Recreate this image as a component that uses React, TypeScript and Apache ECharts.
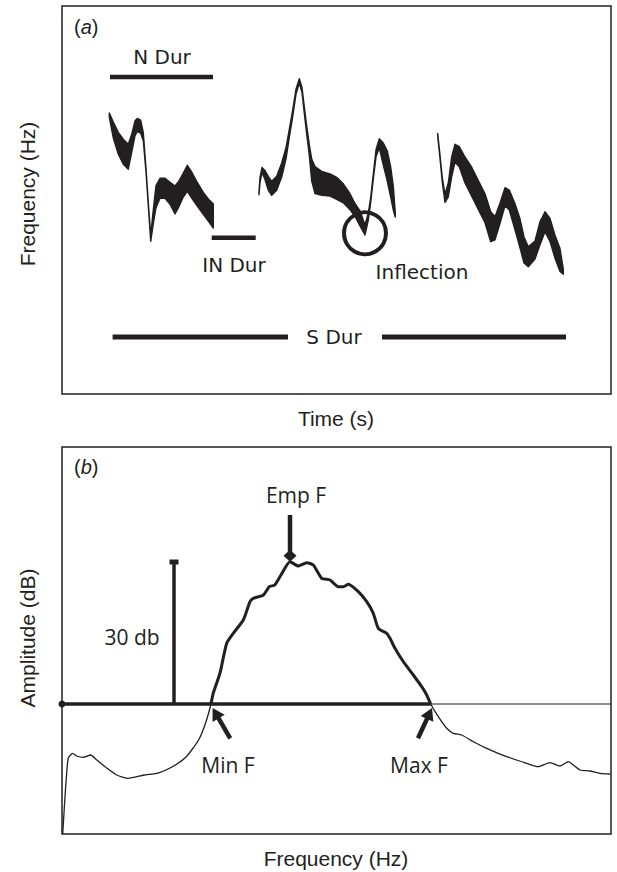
import React, { useEffect, useRef } from 'react';
import * as echarts from 'echarts';

const INK = '#231f20';

// ---------- Panel (a): spectrogram traces: [time, centre frequency, band height] ----------
const syllable1 = [
  [47.3, 279, 4], [51.3, 264, 16], [56.3, 250.7, 22], [61.3, 242.3, 25], [66.3, 237.3, 25],
  [69.7, 250.7, 18], [73, 265.7, 15], [75.3, 269, 13], [78.7, 267.3, 13], [81.3, 257.3, 8],
  [84, 224, 4], [86.7, 184, 3.5], [88.7, 155.7, 6], [91.3, 177.3, 14], [94, 197.3, 22],
  [98, 205.7, 20], [103, 205.7, 20], [108, 200.7, 22], [113, 194, 28], [116.3, 199, 26],
  [121.3, 209, 24], [125.3, 215.7, 26], [129.7, 209, 26], [134.7, 200.7, 24], [141.3, 190.7, 22],
  [146.3, 184, 22], [151.3, 178, 24],
];
const syllable2 = [
  [197, 200.7, 3], [198, 214, 5], [200, 224, 5], [203, 219, 9], [206.3, 210.7, 14],
  [209.7, 205.7, 14], [214.7, 210.7, 14], [219.7, 224, 14], [224, 240.7, 11], [227.3, 260.7, 8],
  [230.7, 280.7, 6.5], [234, 302.3, 5], [237.3, 313.3, 4], [240, 304, 5], [242.3, 284, 6.5],
  [244.7, 264, 8], [247.3, 244, 11], [249.7, 224, 22], [253, 214, 27], [259.7, 210.7, 24],
  [268, 209, 22], [274.7, 205.7, 22], [281.3, 200.7, 19], [288, 192.3, 16], [293, 184, 13],
  [298, 175.7, 15], [303, 164, 10], [306.3, 177.3, 7], [308.7, 194, 5], [311.3, 217.3, 5],
  [314, 240.7, 7], [317.3, 250.7, 9], [321.3, 240, 22], [325.3, 228, 30], [328.7, 212, 30],
  [331.3, 196, 24], [333.3, 179, 4],
];
const syllable3 = [
  [375.7, 259, 3], [378, 237.3, 3.5], [380.3, 214, 4.5], [383, 195.7, 8], [386.3, 204, 14],
  [389.7, 227.3, 20], [393, 240.7, 18], [397.3, 237.3, 20], [403, 224, 26], [409.7, 212.3, 29],
  [416.3, 199, 29], [423, 185.7, 29], [428.7, 167.3, 30], [433, 165.7, 23], [438, 180.7, 20],
  [443, 197.3, 18], [447.3, 194, 20], [453, 177.3, 26], [458, 160.7, 29], [462, 144, 26],
  [466.3, 137.3, 20], [473, 144, 18], [478, 160.7, 23], [483, 172.3, 20], [488, 164, 23],
  [493, 147.3, 23], [498, 134, 23], [501.3, 122.3, 5],
];

// Measurement bars (time span, frequency level)
const nDurSpan = [48, 151];
const nDurLevel = 317;
const inDurSpan = [149.7, 193.7];
const inDurLevel = 156.2;
const sDurLeftSpan = [50.6, 226];
const sDurRightSpan = [320, 504];
const sDurLevel = 57;
const inflectionPoint = [303, 160.7];

// ---------- Panel (b): power spectrum ----------
const spectrumFreq = [
  0.7, 3, 4.7, 6.3, 10.7, 14.7, 21.3, 28.7, 34.7, 44.7, 54.7, 66.3, 82, 96, 110, 124, 136.6, 143.6,
  149, 151.3, 158, 164.7, 171.3, 181.3, 188, 191.3, 201.5, 207.3, 212.7, 219, 228, 236.3, 244.7, 251.3,
  259.7, 268, 276.3, 281.3, 286.3, 296.3, 304.7, 311.3, 316.3, 324.7, 328, 333, 341.3, 351.3, 359.7,
  364.7, 368.7, 376.3, 384.7, 391.3, 399.7, 411.3, 424.7, 444.7, 464.7, 476.3, 488, 498, 506.3, 511.3,
  518, 528, 538, 548,
];
const spectrumAmp = [
  0, 37.3, 61, 76, 80.7, 78, 76.7, 79, 74, 66, 59, 55.7, 59, 61, 67, 77, 94, 111,
  130, 141, 161, 190.7, 200.7, 214, 232.3, 235.7, 239, 247.3, 249, 259, 272.3, 268, 271.3, 269,
  255.7, 254, 247.3, 247.3, 249.7, 242.3, 232.3, 220.7, 205.7, 200.7, 195.7, 185.7, 172.3, 159, 147.3,
  139, 130, 117.3, 105.7, 100.7, 99, 92.3, 85.7, 77.3, 70.7, 67.3, 71.3, 68, 72.3, 69,
  64, 63, 60.7, 60,
];
const thresholdAmp = 130;
const thresholdEndFreq = 368.7;
const dbScaleFreq = 112;
const dbScaleTop = 272;
const empFTail = [228, 319];
const empFTip = [228, 272.3];
const minFTail = [168.2, 95.7];
const minFTip = [150.6, 126];
const maxFTail = [356, 95.7];
const maxFTip = [370, 126];

const syllables = [syllable1, syllable2, syllable3];
const arrows = [
  { tail: empFTail, tip: empFTip, head: 'diamond' },
  { tail: minFTail, tip: minFTip, head: 'tri' },
  { tail: maxFTail, tip: maxFTip, head: 'tri' },
];

function barSeries(name: string, span: number[], level: number, axis: number, width: number) {
  return {
    name,
    type: 'line',
    xAxisIndex: axis,
    yAxisIndex: axis,
    data: [[span[0], level], [span[1], level]],
    symbol: 'none',
    clip: false,
    silent: true,
    lineStyle: { color: INK, width, cap: 'butt' },
  };
}

function txt(text: string, x: number, y: number, family: string, size: number, extra: any = {}) {
  return {
    type: 'text',
    x,
    y,
    silent: true,
    ...extra,
    style: {
      text,
      fill: INK,
      fontFamily: family,
      fontSize: size,
      align: 'center',
      verticalAlign: 'middle',
      textAlign: 'center',
      textVerticalAlign: 'middle',
    },
  };
}

function panelLabel(letter: string, x: number, y: number) {
  return {
    type: 'text',
    x,
    y,
    silent: true,
    style: {
      text: '{n|(}{i|' + letter + '}{n|)}',
      fill: INK,
      fontFamily: '"Liberation Sans", Arial, sans-serif',
      fontSize: 20,
      align: 'left',
      verticalAlign: 'middle',
      rich: {
        n: { fontFamily: '"Liberation Sans", Arial, sans-serif', fontSize: 20, fill: INK, color: INK },
        i: { fontFamily: '"Liberation Sans", Arial, sans-serif', fontSize: 20, fontStyle: 'italic', fill: INK, color: INK },
      },
    },
  };
}

export default function App() {
  const ref = useRef<HTMLDivElement>(null);

  useEffect(() => {
    if (!ref.current) return;
    const chart = echarts.init(ref.current, undefined, { renderer: 'svg' });

    const spectrum = spectrumFreq.map((f, i) => [f, spectrumAmp[i]]);
    const aboveThreshold = spectrum.filter((p) => p[1] >= thresholdAmp);

    const verdana = '"DejaVu Sans", Verdana, sans-serif';
    const myriad = '"Open Sans", "Noto Sans", sans-serif';
    const arial = '"Liberation Sans", Arial, sans-serif';

    const option: any = {
      animation: false,
      grid: [
        { left: 62, top: 6, width: 549, height: 388, show: true, borderColor: INK, borderWidth: 1.5, backgroundColor: 'transparent' },
        { left: 62, top: 447, width: 549, height: 387, show: true, borderColor: INK, borderWidth: 1.5, backgroundColor: 'transparent' },
      ],
      xAxis: [
        { type: 'value', gridIndex: 0, min: 0, max: 549, show: false },
        { type: 'value', gridIndex: 1, min: 0, max: 549, show: false },
      ],
      yAxis: [
        { type: 'value', gridIndex: 0, min: 0, max: 388, show: false },
        { type: 'value', gridIndex: 1, min: 0, max: 387, show: false },
      ],
      series: [
        {
          type: 'custom',
          xAxisIndex: 0,
          yAxisIndex: 0,
          data: syllables.map((_, i) => [i]),
          silent: true,
          renderItem: (params: any, api: any) => {
            const s = syllables[params.dataIndex];
            const top = s.map((p) => api.coord([p[0], p[1] + p[2] / 2]));
            const bot = s.slice().reverse().map((p) => api.coord([p[0], p[1] - p[2] / 2]));
            return {
              type: 'polygon',
              shape: { points: top.concat(bot) },
              style: { fill: INK, stroke: INK, lineWidth: 1.4, lineJoin: 'round' },
            };
          },
        },
        barSeries('nDur', nDurSpan, nDurLevel, 0, 4.5),
        barSeries('inDur', inDurSpan, inDurLevel, 0, 4.5),
        barSeries('sDurL', sDurLeftSpan, sDurLevel, 0, 5),
        barSeries('sDurR', sDurRightSpan, sDurLevel, 0, 5),
        {
          type: 'scatter',
          xAxisIndex: 0,
          yAxisIndex: 0,
          data: [inflectionPoint],
          symbol: 'circle',
          symbolSize: 42,
          clip: false,
          silent: true,
          itemStyle: { color: 'rgba(0,0,0,0)', borderColor: INK, borderWidth: 4, opacity: 1 },
        },
        // panel b
        barSeries('thresholdThin', [thresholdEndFreq, 549], thresholdAmp, 1, 1.2),
        barSeries('thresholdThick', [0, thresholdEndFreq], thresholdAmp, 1, 3.5),
        {
          type: 'scatter',
          xAxisIndex: 1,
          yAxisIndex: 1,
          data: [[0, thresholdAmp]],
          symbolSize: 7,
          clip: false,
          silent: true,
          itemStyle: { color: INK, opacity: 1 },
        },
        {
          type: 'line',
          xAxisIndex: 1,
          yAxisIndex: 1,
          data: spectrum,
          symbol: 'none',
          smooth: 0.2,
          clip: false,
          silent: true,
          lineStyle: { color: INK, width: 1.3 },
        },
        {
          type: 'line',
          xAxisIndex: 1,
          yAxisIndex: 1,
          data: aboveThreshold,
          symbol: 'none',
          smooth: 0.2,
          clip: false,
          silent: true,
          lineStyle: { color: INK, width: 3 },
        },
        {
          type: 'line',
          xAxisIndex: 1,
          yAxisIndex: 1,
          data: [[dbScaleFreq, thresholdAmp], [dbScaleFreq, dbScaleTop]],
          symbol: 'none',
          clip: false,
          silent: true,
          lineStyle: { color: INK, width: 3.5, cap: 'butt' },
        },
        {
          type: 'scatter',
          xAxisIndex: 1,
          yAxisIndex: 1,
          data: [[dbScaleFreq, dbScaleTop]],
          symbol: 'rect',
          symbolSize: [9, 5],
          clip: false,
          silent: true,
          itemStyle: { color: INK, opacity: 1 },
        },
        {
          type: 'custom',
          xAxisIndex: 1,
          yAxisIndex: 1,
          data: arrows.map((_, i) => [i]),
          silent: true,
          renderItem: (params: any, api: any) => {
            const a = arrows[params.dataIndex];
            const p0 = api.coord(a.tail);
            const p1 = api.coord(a.tip);
            const dx = p1[0] - p0[0];
            const dy = p1[1] - p0[1];
            const L = Math.hypot(dx, dy);
            const ux = dx / L, uy = dy / L;
            const nx = -uy, ny = ux;
            const headLen = 12;
            const half = a.head === 'diamond' ? 6.5 : 7;
            let pts: number[][];
            let shaftEnd: number[];
            if (a.head === 'diamond') {
              const mx = p1[0] - ux * headLen / 2, my = p1[1] - uy * headLen / 2;
              pts = [p1, [mx + nx * half, my + ny * half], [p1[0] - ux * headLen, p1[1] - uy * headLen], [mx - nx * half, my - ny * half]];
              shaftEnd = [p1[0] - ux * (headLen - 2), p1[1] - uy * (headLen - 2)];
            } else {
              const bx = p1[0] - ux * headLen, by = p1[1] - uy * headLen;
              pts = [p1, [bx + nx * half, by + ny * half], [bx - nx * half, by - ny * half]];
              shaftEnd = [bx + ux * 2, by + uy * 2];
            }
            return {
              type: 'group',
              children: [
                { type: 'line', shape: { x1: p0[0], y1: p0[1], x2: shaftEnd[0], y2: shaftEnd[1] }, style: { stroke: INK, lineWidth: 4.5 } },
                { type: 'polygon', shape: { points: pts }, style: { fill: INK } },
              ],
            };
          },
        },
      ],
      graphic: [
        panelLabel('a', 74, 27),
        panelLabel('b', 74, 467),
        txt('N Dur', 162, 57, verdana, 20),
        txt('IN Dur', 234, 265, verdana, 20),
        txt('Inflection', 422, 272, verdana, 20),
        txt('S Dur', 334, 337, verdana, 20),
        txt('Emp F', 296, 495, myriad, 21),
        txt('30 db', 132, 637, myriad, 21),
        txt('Min F', 228, 765, myriad, 21),
        txt('Max F', 419, 765, myriad, 21),
        txt('Frequency (Hz)', 27, 194, arial, 21, { rotation: Math.PI / 2 }),
        txt('Time (s)', 336, 418, arial, 21),
        txt('Amplitude (dB)', 27, 638, arial, 21, { rotation: Math.PI / 2 }),
        txt('Frequency (Hz)', 336, 858, arial, 21),
      ],
    };

    chart.setOption(option);
    return () => chart.dispose();
  }, []);

  return <div ref={ref} style={{ position: 'absolute', left: 0, top: 0, width: 617, height: 872 }} />;
}
